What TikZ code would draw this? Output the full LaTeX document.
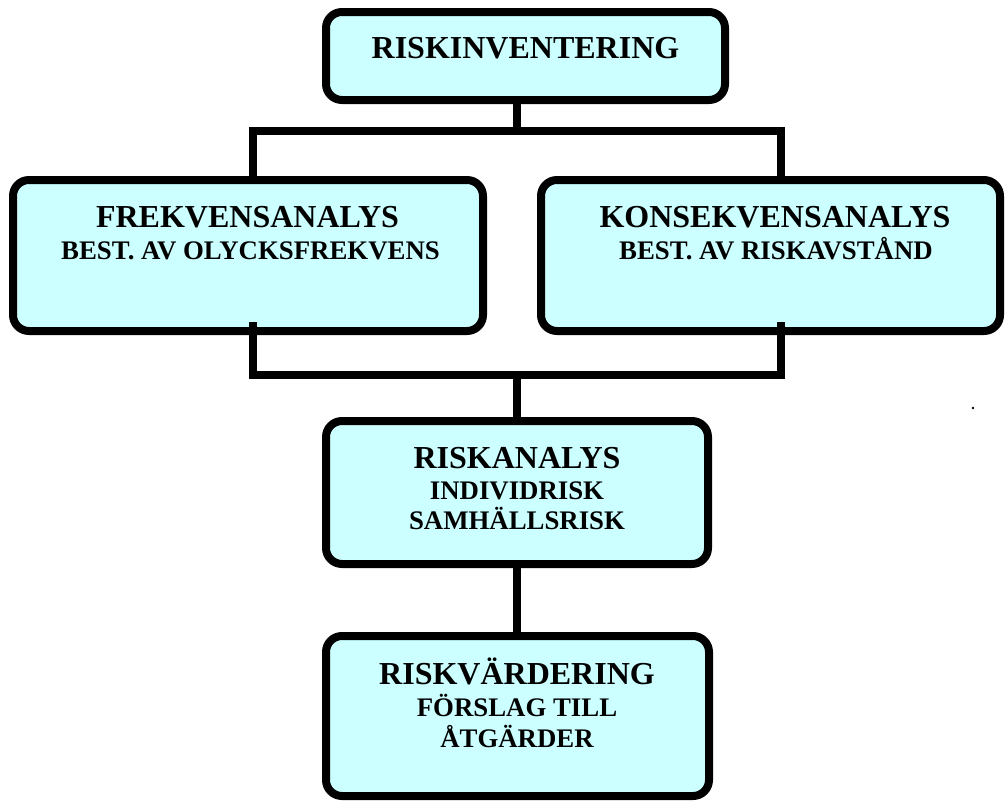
\documentclass[tikz,border=0pt]{standalone}
\usepackage{fontspec}
\setmainfont{Liberation Serif}
\definecolor{boxfill}{HTML}{CCFFFF}
\begin{document}
\begin{tikzpicture}[x=1pt,y=-1pt,
  box/.style={draw=black, line width=8pt, fill=boxfill, rounded corners=16pt, rectangle, inner sep=0pt, outer sep=0pt},
  conn/.style={line width=7.5pt, black},
  ttl/.style={anchor=base, inner sep=0pt, font=\bfseries\fontsize{32}{36}\selectfont},
  sub/.style={anchor=base, inner sep=0pt, font=\bfseries\fontsize{26.8}{30}\selectfont}]
\useasboundingbox (0,0) rectangle (1005,803);
% boxes
\node[box, minimum width=399pt, minimum height=88pt] (inv) at (525.5,56) {};
\node[box, minimum width=470pt, minimum height=151pt] (frek) at (248,255.5) {};
\node[box, minimum width=459pt, minimum height=151pt] (kons) at (770.5,255.5) {};
\node[box, minimum width=382pt, minimum height=143pt] (ana) at (517,492.5) {};
\node[box, minimum width=383pt, minimum height=160pt] (var) at (517.5,716) {};
% junction coordinates
\coordinate (tj) at (517,131);
\coordinate (tl) at (253,131);
\coordinate (tr) at (781,131);
\coordinate (bl) at (253,375);
\coordinate (br) at (781,375);
\coordinate (bj) at (517,375);
\coordinate (fl) at (253,322);
\coordinate (kr) at (781,322);
% connectors
\draw[conn] (inv.south -| tj) -- (tj);
\draw[conn, line cap=rect] (tl) -- (tr);
\draw[conn] (tl) -- (frek.north -| tl);
\draw[conn] (tr) -- (kons.north -| tr);
\draw[conn] (fl) -- (bl) -- (br) -- (kr);
\draw[conn] (bj) -- (ana.north -| bj);
\draw[conn] (ana.south -| bj) -- (var.north -| bj);
% texts
\node[ttl] (t1) at (525.5,58) {RISKINVENTERING};
\node[ttl] (t2) at (247.5,227) {FREKVENSANALYS};
\node[sub] (t3) at (250.5,259) {BEST. AV OLYCKSFREKVENS};
\node[ttl] (t4) at (775,227) {KONSEKVENSANALYS};
\node[sub] (t5) at (776,259) {BEST. AV RISKAVSTÅND};
\node[ttl] (t6) at (517,468) {RISKANALYS};
\node[sub] (t7) at (517,499) {INDIVIDRISK};
\node[sub] (t8) at (517,529) {SAMHÄLLSRISK};
\node[ttl] (t9) at (517,684) {RISKVÄRDERING};
\node[sub] (t10) at (517,716) {FÖRSLAG TILL};
\node[sub] (t11) at (517,747) {ÅTGÄRDER};
% stray dot
\fill (973,408) circle (1.3pt);
\end{tikzpicture}
\end{document}
